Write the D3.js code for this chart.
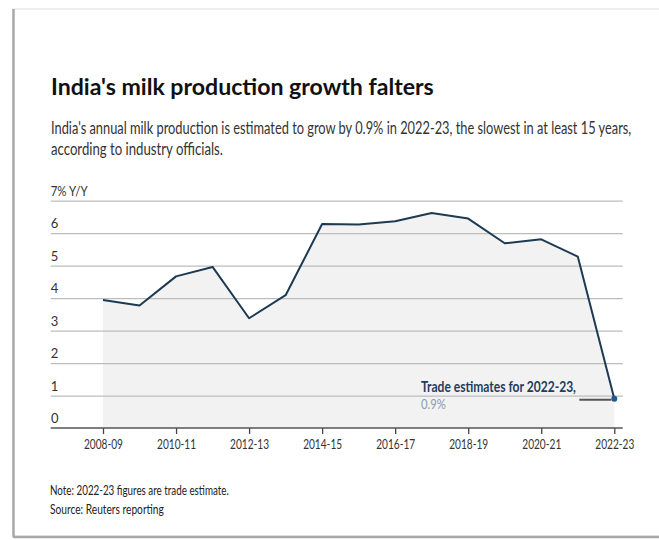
<html>
    <head>
        <title>India milk production</title>
        <script src="https://cdnjs.cloudflare.com/ajax/libs/d3/7.8.5/d3.min.js" type="text/JavaScript"></script>
        <style>
            body { margin: 0; background: #fff; }
            text { font-family: Lato, "Noto Sans", sans-serif; }
        </style>
    </head>

    <body>
        <svg style="width:659px;height:540px"></svg>

        <script>
            // chart values
            var years = ["2008-09", "2009-10", "2010-11", "2011-12", "2012-13", "2013-14", "2014-15",
                         "2015-16", "2016-17", "2017-18", "2018-19", "2019-20", "2020-21", "2021-22", "2022-23"];
            var growth = [3.94, 3.77, 4.67, 4.96, 3.38, 4.09, 6.28, 6.27, 6.37, 6.62, 6.45, 5.69, 5.81, 5.28, 0.9];
            var xTickLabels = ["2008-09", "2010-11", "2012-13", "2014-15", "2016-17", "2018-19", "2020-21", "2022-23"];
            var yTickValues = [0, 1, 2, 3, 4, 5, 6, 7];

            var data = years.map((y, i) => ({year: y, value: growth[i]}));

            var svg = d3.select("svg");

            // the source type is narrow, so squeeze Lato sideways to the same width
            function narrowText(x, y, str, size, weight, fill, width) {
                var t = svg.append("text")
                           .attr("font-size", size)
                           .attr("font-weight", weight)
                           .attr("fill", fill)
                           .text(str);
                var sx = width / t.node().getComputedTextLength();
                t.attr("transform", "translate(" + x + "," + y + ") scale(" + sx + ",1)");
                return t;
            }

            // card frame
            svg.append("rect")
               .attr("x", 13).attr("y", 9).attr("width", 650).attr("height", 527)
               .attr("fill", "#fff").attr("stroke", "#ececec").attr("stroke-width", 1.5);
            svg.append("line")
               .attr("x1", 13.5).attr("x2", 13.5).attr("y1", 9).attr("y2", 537)
               .attr("stroke", "#a8a8a8").attr("stroke-width", 2.5);
            svg.append("line")
               .attr("x1", 13).attr("x2", 659).attr("y1", 537).attr("y2", 537)
               .attr("stroke", "#a8a8a8").attr("stroke-width", 2.5);

            // titles
            narrowText(51, 95, "India's milk production growth falters", 23.5, "bold", "#111", 383);
            narrowText(51, 134, "India's annual milk production is estimated to grow by 0.9% in 2022-23, the slowest in at least 15 years,",
                       17.5, "normal", "#333", 581);
            narrowText(51, 155, "according to industry officials.", 17.5, "normal", "#333", 172);

            // scales
            var xScale = d3.scalePoint().domain(years).range([103, 614.3]);
            var yScale = d3.scaleLinear().domain([0, 7]).range([428, 200.7]);

            // area under the line
            var area = d3.area()
                         .x(d => xScale(d.year))
                         .y0(yScale(0))
                         .y1(d => yScale(d.value));

            svg.append("path")
               .datum(data)
               .attr("d", area)
               .attr("fill", "#f2f2f2");

            // gridlines with labels sitting above them
            var yAxis = d3.axisRight()
                          .scale(yScale)
                          .tickValues(yTickValues.slice(1))
                          .tickSize(572)
                          .tickFormat(d => d == 7 ? "7% Y/Y" : d);

            svg.append("g")
               .attr("transform", "translate(50.7,0)")
               .call(yAxis)
               .call(g => g.select(".domain").remove())
               .call(g => g.selectAll(".tick line").attr("stroke", "#bdbdbd").attr("stroke-width", 1.3))
               .call(g => g.selectAll(".tick text")
                           .attr("x", 0).attr("dy", -5.5)
                           .attr("text-anchor", "start")
                           .attr("font-size", 13).attr("fill", "#333")
                           .style("font-family", "Lato, sans-serif"))
               .call(g => g.selectAll(".tick").filter(d => d == 7).select("text")
                           .attr("textLength", 37).attr("lengthAdjust", "spacingAndGlyphs"));

            svg.append("text")
               .attr("x", 51).attr("y", yScale(0) - 5.5)
               .attr("font-size", 13).attr("fill", "#333")
               .text(yTickValues[0]);

            // x axis
            var xAxis = d3.axisBottom()
                          .scale(xScale)
                          .tickValues(xTickLabels)
                          .tickSize(6)
                          .tickSizeOuter(0);

            svg.append("g")
               .attr("transform", "translate(0," + yScale(0) + ")")
               .call(xAxis)
               .call(g => g.select(".domain").remove())
               .call(g => g.selectAll(".tick line").attr("stroke", "#444").attr("stroke-width", 1.3))
               .call(g => g.selectAll(".tick text")
                           .attr("y", 21)
                           .attr("dy", 0)
                           .attr("font-size", 13).attr("fill", "#333")
                           .attr("textLength", 39).attr("lengthAdjust", "spacingAndGlyphs")
                           .style("font-family", "Lato, sans-serif"));

            svg.append("line")
               .attr("x1", 50.7).attr("x2", 622.7)
               .attr("y1", yScale(0)).attr("y2", yScale(0))
               .attr("stroke", "#555").attr("stroke-width", 1.5);

            // line
            var line = d3.line()
                         .x(d => xScale(d.year))
                         .y(d => yScale(d.value));

            svg.append("path")
               .datum(data)
               .attr("d", line)
               .attr("fill", "none")
               .attr("stroke", "#1d3a52")
               .attr("stroke-width", 2)
               .attr("stroke-linejoin", "round");

            // annotation for the last point
            var last = data[data.length - 1];

            svg.append("line")
               .attr("x1", xScale(last.year) - 35).attr("x2", xScale(last.year) - 3)
               .attr("y1", yScale(last.value) + 1).attr("y2", yScale(last.value) + 1)
               .attr("stroke", "#555").attr("stroke-width", 2);

            svg.append("circle")
               .attr("cx", xScale(last.year))
               .attr("cy", yScale(last.value))
               .attr("r", 3)
               .attr("fill", "#1f5a8a");

            narrowText(421, 391.5, "Trade estimates for " + last.year + ",", 14.5, "bold", "#1f3d5c", 155);
            narrowText(421, 409, last.value + "%", 13.5, "normal", "#8a9bab", 25);

            // footnotes
            narrowText(50, 495, "Note: 2022-23 figures are trade estimate.", 12.5, "normal", "#222", 179);
            narrowText(50, 514, "Source: Reuters reporting", 12.5, "normal", "#222", 114);
        </script>
    </body>
</html>
